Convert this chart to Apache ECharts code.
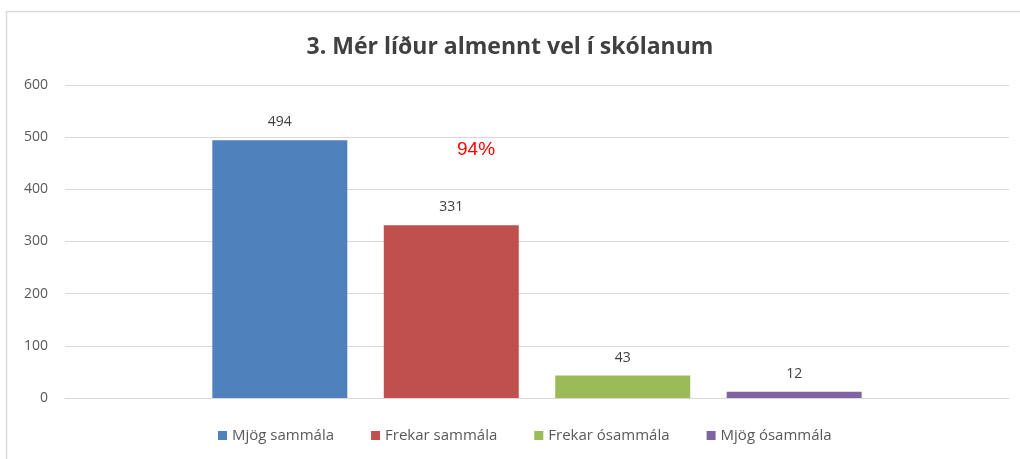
<!DOCTYPE html>
<html lang="is">
<head>
    <meta charset="UTF-8">
    <title>Mér líður almennt vel í skólanum</title>
    <script src="https://cdn.jsdelivr.net/npm/echarts@6/dist/echarts.min.js"></script>
    <style>
        html, body { margin: 0; padding: 0; background: #fff; }
    </style>
</head>
<body>
<div id="main" style="width:1020px;height:459px;"></div>
<script type="text/javascript">
    // gögn
    var categories = ['3. Mér líður almennt vel í skólanum'];
    var seriesNames = ['Mjög sammála', 'Frekar sammála', 'Frekar ósammála', 'Mjög ósammála'];
    var seriesValues = [494, 331, 43, 12];
    var seriesColors = ['#4f81bd', '#c0504d', '#9bbb59', '#8064a2'];
    var yTicks = [0, 100, 200, 300, 400, 500, 600];

    var myChart = echarts.init(document.getElementById('main'));

    var series = [];
    for (var i = 0; i < seriesNames.length; i++) {
        series.push({
            name: seriesNames[i],
            type: 'bar',
            barWidth: 135,
            barGap: '27%',
            itemStyle: { color: seriesColors[i] },
            label: {
                show: true,
                position: 'top',
                distance: 11,
                color: '#404040',
                fontSize: 14,
                fontFamily: 'Open Sans'
            },
            data: [seriesValues[i]]
        });
    }

    var option = {
        animation: false,
        title: {
            text: '3. Mér líður almennt vel í skólanum',
            left: 'center',
            top: 31,
            textStyle: {
                color: '#404040',
                fontSize: 23,
                fontWeight: 'bold',
                fontFamily: 'Open Sans'
            }
        },
        graphic: [
            {
                type: 'rect',
                shape: { x: 6.5, y: 11.5, width: 1100, height: 500 },
                style: { fill: null, stroke: '#d9d9d9', lineWidth: 1.5 },
                silent: true
            },
            {
                type: 'text',
                left: 457,
                top: 140,
                style: {
                    text: '94%',
                    fill: '#ff0000',
                    fontSize: 19,
                    fontFamily: 'Liberation Sans'
                }
            }
        ],
        legend: {
            bottom: 11,
            left: 213,
            itemWidth: 9,
            itemHeight: 9,
            itemGap: 37,
            icon: 'rect',
            textStyle: { color: '#595959', fontSize: 15, fontFamily: 'Open Sans' },
            data: seriesNames
        },
        grid: {
            left: 65,
            right: 11,
            top: 85,
            bottom: 61,
            containLabel: false
        },
        xAxis: {
            type: 'category',
            data: categories,
            axisLabel: { show: false },
            axisTick: { show: false },
            axisLine: { show: true, lineStyle: { color: '#d9d9d9', width: 1 } }
        },
        yAxis: {
            type: 'value',
            min: yTicks[0],
            max: yTicks[yTicks.length - 1],
            interval: 100,
            axisLine: { show: false },
            axisTick: { show: false },
            axisLabel: {
                color: '#595959',
                fontSize: 14,
                fontFamily: 'Open Sans',
                margin: 17
            },
            splitLine: { lineStyle: { color: '#d9d9d9', width: 1 } }
        },
        series: series
    };

    myChart.setOption(option);
</script>
</body>
</html>
